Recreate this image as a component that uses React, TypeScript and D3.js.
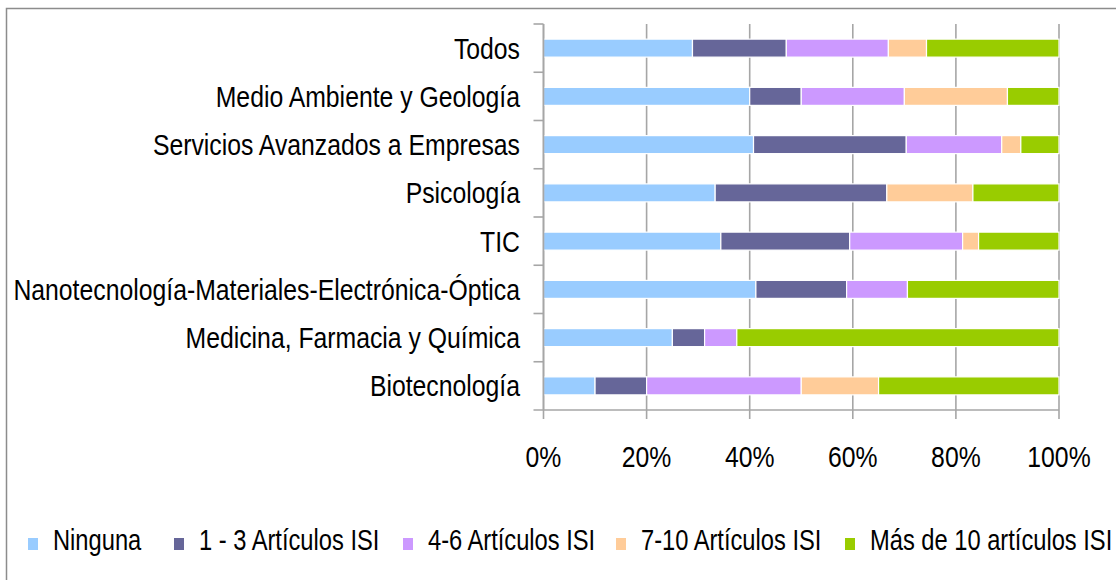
import React from 'react';
import * as d3 from 'd3';

// Categories (top to bottom)
const categories = [
  'Todos',
  'Medio Ambiente y Geología',
  'Servicios Avanzados a Empresas',
  'Psicología',
  'TIC',
  'Nanotecnología-Materiales-Electrónica-Óptica',
  'Medicina, Farmacia y Química',
  'Biotecnología',
];

const seriesNames = ['Ninguna', '1 - 3 Artículos ISI', '4-6 Artículos ISI', '7-10 Artículos ISI', 'Más de 10 artículos ISI'];
const seriesColors = ['#99CCFF', '#666699', '#CC99FF', '#FFCC99', '#99CC00'];

// percentages per series, same order as categories
const ninguna = [28.9, 40, 40.7, 33.3, 34.4, 41.2, 25, 10];
const unoTres = [18.2, 10, 29.6, 33.3, 25, 17.6, 6.25, 10];
const cuatroSeis = [19.8, 20, 18.5, 0, 21.9, 11.8, 6.25, 30];
const sieteDiez = [7.4, 20, 3.7, 16.7, 3.1, 0, 0, 15];
const masDiez = [25.7, 10, 7.4, 16.7, 15.6, 29.4, 62.5, 35];

const xTicks = [0, 20, 40, 60, 80, 100];

const FONT = '"Liberation Sans", Arial, sans-serif';

// the original text is horizontally condensed
const Label = ({ x, y, anchor, sx = 0.826, children }: any) => (
  <text transform={`translate(${x},${y}) scale(${sx},1)`} textAnchor={anchor} fontSize={30} fill="#000">
    {children}
  </text>
);

export default function App() {
  const width = 1116;
  const height = 580;
  const margin = { left: 543.5, right: 57, top: 24, bottom: 170 };

  const rows = categories.map((c, i) => {
    const vals = [ninguna[i], unoTres[i], cuatroSeis[i], sieteDiez[i], masDiez[i]];
    const total = d3.sum(vals);
    const r: any = { cat: c };
    seriesNames.forEach((s, j) => (r[s] = (vals[j] / total) * 100));
    return r;
  });

  const stacked = d3.stack().keys(seriesNames)(rows);

  const x = d3.scaleLinear().domain([0, 100]).range([margin.left, width - margin.right]);
  const y = d3.scaleBand().domain(categories).range([margin.top, height - margin.bottom]).paddingInner(0.627).paddingOuter(0.3135);
  const yOuter = d3.scaleBand().domain(categories).range([margin.top, height - margin.bottom]);
  const bottom = height - margin.bottom;

  // legend layout
  const legendX = [28, 174, 403, 616, 845];

  return (
    <svg width={width} height={height} style={{ position: 'absolute', left: 0, top: 0, background: '#fff' }} fontFamily={FONT}>
      <rect x={6.5} y={8.5} width={1130} height={600} fill="#fff" stroke="#8c8c8c" strokeWidth={1.5} />

      {/* vertical gridlines */}
      {xTicks.map((t) => (
        <line key={'g' + t} x1={x(t)} x2={x(t)} y1={margin.top} y2={bottom + 9} stroke="#a6a6a6" strokeWidth={1.6} />
      ))}

      {/* bars */}
      {stacked.map((layer, j) => (
        <g key={layer.key} fill={seriesColors[j]}>
          {layer.map((d: any, i) =>
            d[1] - d[0] > 0 ? (
              <rect
                key={i}
                x={x(d[0])}
                y={y(categories[i])}
                width={x(d[1]) - x(d[0])}
                height={y.bandwidth()}
                stroke="#fff"
                strokeWidth={1.2}
              />
            ) : null
          )}
        </g>
      ))}

      {/* y axis */}
      <line x1={x(0)} x2={x(0)} y1={margin.top} y2={bottom} stroke="#a6a6a6" strokeWidth={1.6} />
      {categories.map((c) => (
        <line key={'t' + c} x1={x(0) - 10} x2={x(0)} y1={yOuter(c)} y2={yOuter(c)} stroke="#a6a6a6" strokeWidth={1.6} />
      ))}
      <line x1={x(0) - 10} x2={x(100)} y1={bottom} y2={bottom} stroke="#a6a6a6" strokeWidth={1.6} />

      {/* category labels */}
      {categories.map((c) => (
        <Label key={'l' + c} x={520} y={(yOuter(c) as number) + yOuter.bandwidth() / 2 + 10.5} anchor="end">
          {c}
        </Label>
      ))}

      {/* x tick labels */}
      {xTicks.map((t) => (
        <Label key={'x' + t} x={x(t)} y={467} anchor="middle">
          {t + '%'}
        </Label>
      ))}

      {/* legend */}
      {seriesNames.map((s, j) => (
        <g key={'lg' + s}>
          <rect x={legendX[j]} y={538} width={10} height={12} fill={seriesColors[j]} />
          <Label x={legendX[j] + 25} y={550} anchor="start" sx={0.79}>
            {s}
          </Label>
        </g>
      ))}
    </svg>
  );
}
